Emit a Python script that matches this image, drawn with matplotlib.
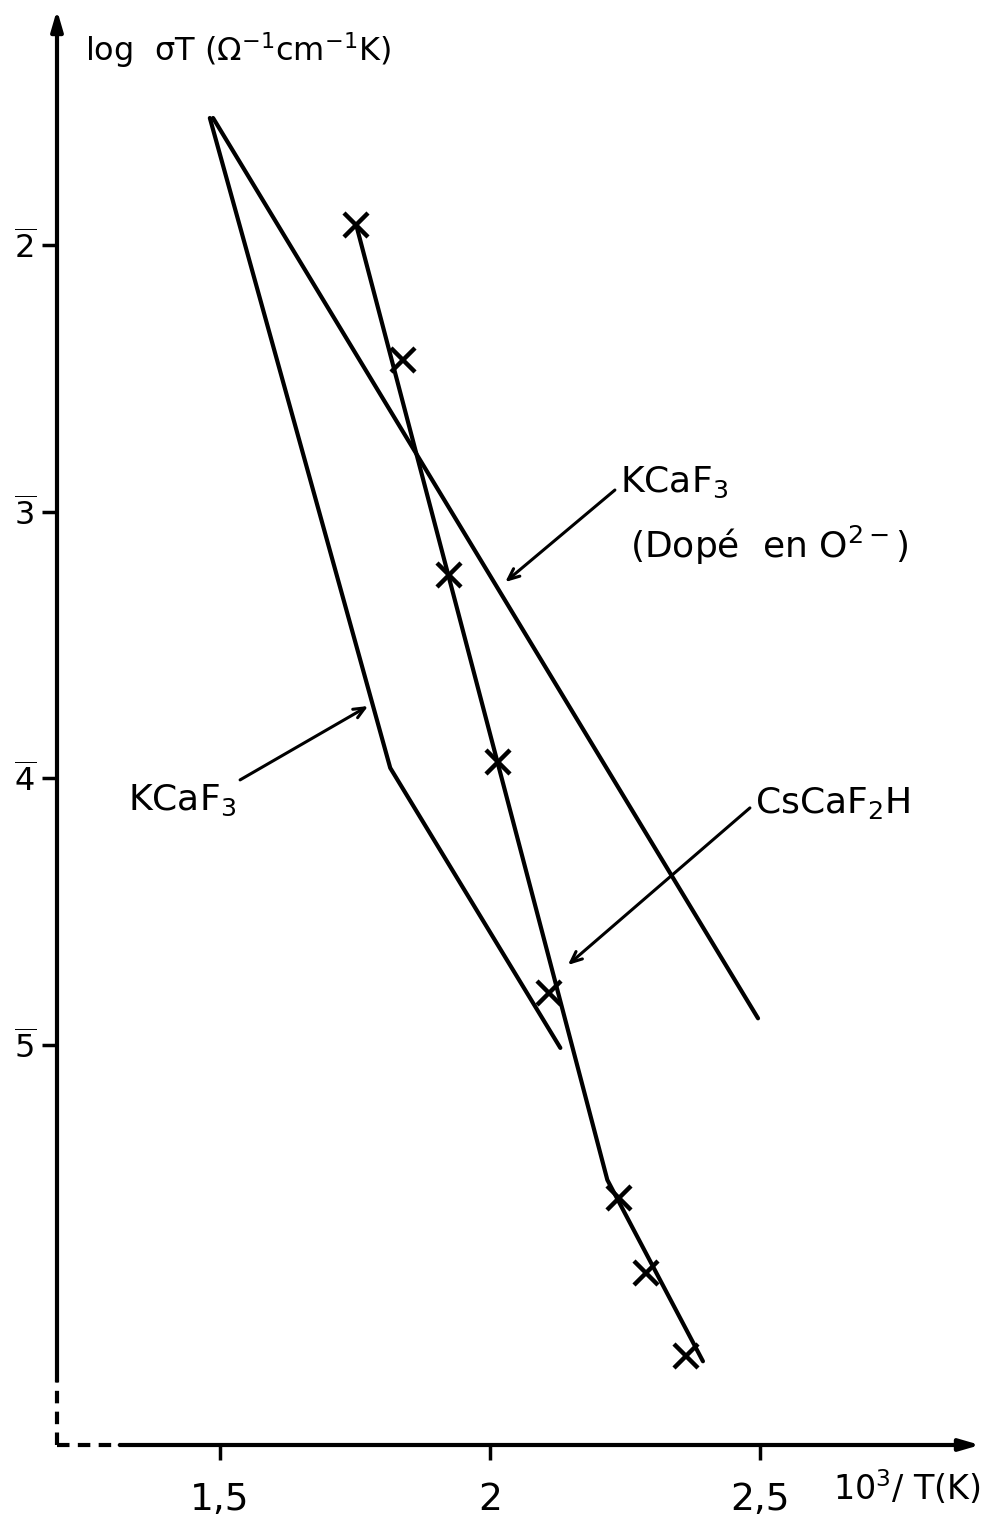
import matplotlib
matplotlib.use("Agg")
import matplotlib.pyplot as plt

plt.rcParams['font.family'] = ['DejaVu Sans']
plt.rcParams['mathtext.fontset'] = 'dejavusans'

# ---- data ----
x_ticks = [1.5, 2.0, 2.5]
x_ticklabels = ['1,5', '2', '2,5']
y_ticks = [-2, -3, -4, -5]
y_ticklabels = [r'$\overline{2}$', r'$\overline{3}$', r'$\overline{4}$', r'$\overline{5}$']

kcaf3_doped_x = [1.487, 2.496]
kcaf3_doped_y = [-1.524, -4.90]

kcaf3_x = [1.481, 1.815, 2.130]
kcaf3_y = [-1.524, -3.961, -5.011]

cscaf2h_line_x = [1.752, 2.217, 2.394]
cscaf2h_line_y = [-1.925, -5.506, -6.186]

cscaf2h_pts_x = [1.752, 1.839, 1.924, 2.015, 2.109, 2.239, 2.289, 2.363]
cscaf2h_pts_y = [-1.925, -2.431, -3.237, -3.939, -4.805, -5.573, -5.855, -6.166]

# ---- figure ----
fig = plt.figure(figsize=(9.97, 15.24), dpi=100)
ax = fig.add_axes([57/997, 79/1524, 923/997, 1435/1524])
ax.set_xlim(1.198, 2.907)
ax.set_ylim(-6.5, -1.119)
for s in ax.spines.values():
    s.set_visible(False)

lw = 3.0
ax.plot(kcaf3_doped_x, kcaf3_doped_y, color='black', lw=lw, solid_capstyle='round')
ax.plot(kcaf3_x, kcaf3_y, color='black', lw=lw, solid_capstyle='round', solid_joinstyle='round')
ax.plot(cscaf2h_line_x, cscaf2h_line_y, color='black', lw=lw, solid_capstyle='round', solid_joinstyle='round')
ax.plot(cscaf2h_pts_x, cscaf2h_pts_y, linestyle='none', marker='x', markersize=17,
        markeredgewidth=3.2, color='black')

# axes lines (solid + dashed), with arrows
yb = 0.045  # fraction where solid y axis starts
xb = 0.068  # fraction where solid x axis starts
ax.plot([0, 0], [0, yb], transform=ax.transAxes, color='black', lw=3, ls=(0, (3, 2)), clip_on=False)
ax.plot([0, xb], [0, 0], transform=ax.transAxes, color='black', lw=3, ls=(0, (3, 2)), clip_on=False)
ax.annotate('', xy=(0, 1.0), xytext=(0, yb), xycoords='axes fraction',
            arrowprops=dict(arrowstyle='-|>,head_length=1.2,head_width=0.35', lw=3, color='black',
                            shrinkA=0, shrinkB=0))
ax.annotate('', xy=(1.0, 0), xytext=(xb, 0), xycoords='axes fraction',
            arrowprops=dict(arrowstyle='-|>,head_length=1.2,head_width=0.35', lw=3, color='black',
                            shrinkA=0, shrinkB=0))

ax.set_xticks(x_ticks)
ax.set_xticklabels(x_ticklabels, fontsize=27)
ax.set_yticks(y_ticks)
ax.set_yticklabels(y_ticklabels, fontsize=23)
ax.tick_params(axis='both', direction='out', length=11, width=2.5, color='black')
ax.tick_params(axis='x', pad=16)
ax.tick_params(axis='y', pad=4)

# axis labels
ax.text(1.25, -1.269, r'log  σT ($\Omega^{-1}$cm$^{-1}$K)', fontsize=23, va='center', ha='left')
ax.text(2.635, -6.66, r'10$^3$/ T(K)', fontsize=24, va='center', ha='left', clip_on=False)

# annotations
ax.text(2.241, -2.892, r'KCaF$_3$', fontsize=26, va='center', ha='left')
ax.text(2.259, -3.125, r'(Dopé  en O$^{2-}$)', fontsize=26, va='center', ha='left')
ax.text(1.330, -4.081, r'KCaF$_3$', fontsize=26, va='center', ha='left')
ax.text(2.491, -4.092, r'CsCaF$_2$H', fontsize=26, va='center', ha='left')

arrow_kw = dict(arrowstyle='->,head_length=0.8,head_width=0.35', lw=2.2, color='black',
                shrinkA=0, shrinkB=0)
ax.annotate('', xy=(2.028, -3.264), xytext=(2.231, -2.919), arrowprops=arrow_kw)
ax.annotate('', xy=(1.774, -3.729), xytext=(1.537, -4.006), arrowprops=arrow_kw)
ax.annotate('', xy=(2.144, -4.700), xytext=(2.481, -4.111), arrowprops=arrow_kw)

fig.savefig('out.png', dpi=100, facecolor='white')
